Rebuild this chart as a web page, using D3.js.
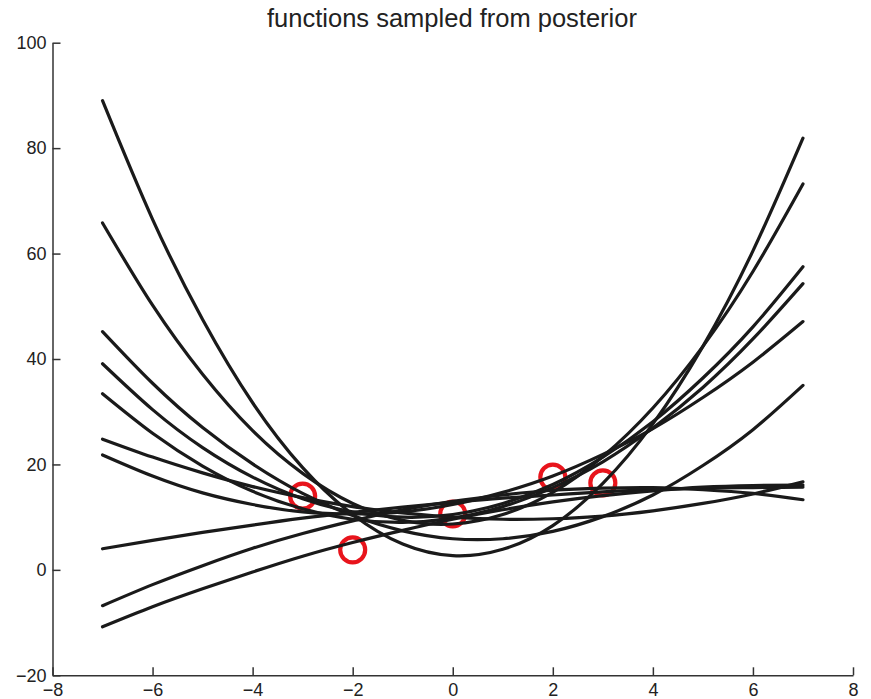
<!DOCTYPE html>
<html>
<head>
<meta charset="utf-8">
<script src="https://cdn.jsdelivr.net/npm/d3@7"></script>
<style>
  html, body { margin: 0; padding: 0; background: #fff; }
  svg { display: block; font-family: "Liberation Sans", Arial, Helvetica, sans-serif; }
</style>
</head>
<body>
<svg id="chart" width="871" height="699"></svg>
<script>
// ---- data ----
const title = "functions sampled from posterior";
const xTicks = [-8, -6, -4, -2, 0, 2, 4, 6, 8];
const yTicks = [-20, 0, 20, 40, 60, 80, 100];

// observed data points (red circles)
const obsX = [-3, -2, 0, 2, 3];
const obsY = [14.0, 3.8, 10.6, 17.6, 16.5];

// x positions at which the sampled functions were read
const xs = [-7, -6, -5, -4, -3, -2, -1, 0, 1, 2, 3, 4, 5, 6, 7];

// sampled functions (values read at xs)
const sample1  = [89.0, 66.5, 47.5, 31.7, 19.4, 10.5, 4.9, 2.7, 3.9, 8.4, 16.4, 27.7, 42.4, 60.5, 81.9];
const sample2  = [65.8, 50.2, 37.1, 26.4, 18.3, 12.6, 9.4, 8.7, 10.5, 14.7, 21.5, 30.7, 42.4, 56.6, 73.2];
const sample3  = [45.2, 35.4, 27.0, 20.1, 14.5, 10.3, 7.4, 5.9, 5.9, 7.3, 10.1, 14.2, 19.8, 26.6, 35.0];
const sample4  = [39.1, 30.4, 23.2, 17.6, 13.5, 11.0, 10.0, 10.5, 12.6, 16.2, 21.4, 28.1, 36.4, 46.1, 57.5];
const sample5  = [33.4, 25.9, 19.7, 14.9, 11.6, 9.6, 9.0, 9.8, 12.0, 15.6, 20.5, 26.9, 34.6, 43.8, 54.3];
const sample6  = [21.8, 17.8, 14.6, 12.4, 11.0, 10.6, 11.0, 12.4, 14.7, 17.8, 21.9, 26.8, 32.7, 39.4, 47.1];
const sample7  = [24.8, 21.4, 18.4, 15.8, 13.7, 12.0, 10.8, 10.0, 9.6, 9.7, 10.2, 11.2, 12.6, 14.4, 16.7];
const sample8  = [4.0, 5.6, 7.1, 8.5, 9.8, 10.9, 11.9, 12.8, 13.6, 14.2, 14.8, 15.2, 15.5, 15.6, 15.7];
const sample9  = [-6.8, -2.8, 0.8, 4.1, 6.9, 9.3, 11.4, 13.0, 14.2, 15.1, 15.5, 15.6, 15.2, 14.5, 13.3];
const sample10 = [-10.8, -7.0, -3.6, -0.4, 2.6, 5.2, 7.5, 9.6, 11.4, 12.9, 14.1, 15.0, 15.7, 16.0, 16.1];

const samples = [sample1, sample2, sample3, sample4, sample5,
                 sample6, sample7, sample8, sample9, sample10];

// ---- drawing ----
const svg = d3.select("#chart");
const x = d3.scaleLinear().domain([-8, 8]).range([52.5, 853]);
const y = d3.scaleLinear().domain([-20, 100]).range([675.3, 42.7]);

const axisColor = "#333";
const textColor = "#222";

// title
svg.append("text")
  .attr("x", 452)
  .attr("y", 26.5)
  .attr("text-anchor", "middle")
  .attr("font-size", 25.5)
  .attr("fill", textColor)
  .text(title);

// observed points (drawn beneath the curves)
svg.append("g")
  .selectAll("circle")
  .data(obsX.map((v, i) => [v, obsY[i]]))
  .join("circle")
  .attr("cx", d => x(d[0]))
  .attr("cy", d => y(d[1]))
  .attr("r", 12.5)
  .attr("fill", "none")
  .attr("stroke", "#e8141c")
  .attr("stroke-width", 4.2);

// sampled functions
const line = d3.line()
  .x((d, i) => x(xs[i]))
  .y(d => y(d))
  .curve(d3.curveNatural);

svg.append("g")
  .selectAll("path")
  .data(samples)
  .join("path")
  .attr("d", d => line(d))
  .attr("fill", "none")
  .attr("stroke", "#1a1a1a")
  .attr("stroke-width", 3.2)
  .attr("stroke-linecap", "round")
  .attr("stroke-linejoin", "round");

// axes
const fmt = d3.format("");
const xAxis = d3.axisBottom(x).tickValues(xTicks).tickSize(-8).tickSizeOuter(0)
  .tickPadding(8).tickFormat(fmt);
const yAxis = d3.axisLeft(y).tickValues(yTicks).tickSize(-8).tickSizeOuter(0)
  .tickPadding(6).tickFormat(fmt);

const gx = svg.append("g").attr("transform", `translate(0,${y(-20)})`).call(xAxis);
const gy = svg.append("g").attr("transform", `translate(${x(-8)},0)`).call(yAxis);

[gx, gy].forEach(g => {
  g.select(".domain").attr("stroke", axisColor).attr("stroke-width", 1.5);
  g.selectAll(".tick line").attr("stroke", axisColor).attr("stroke-width", 1.5);
  g.selectAll(".tick text")
    .attr("fill", textColor)
    .attr("font-size", 18)
    .attr("font-family", "'Liberation Sans', Arial, Helvetica, sans-serif");
});
</script>
</body>
</html>
